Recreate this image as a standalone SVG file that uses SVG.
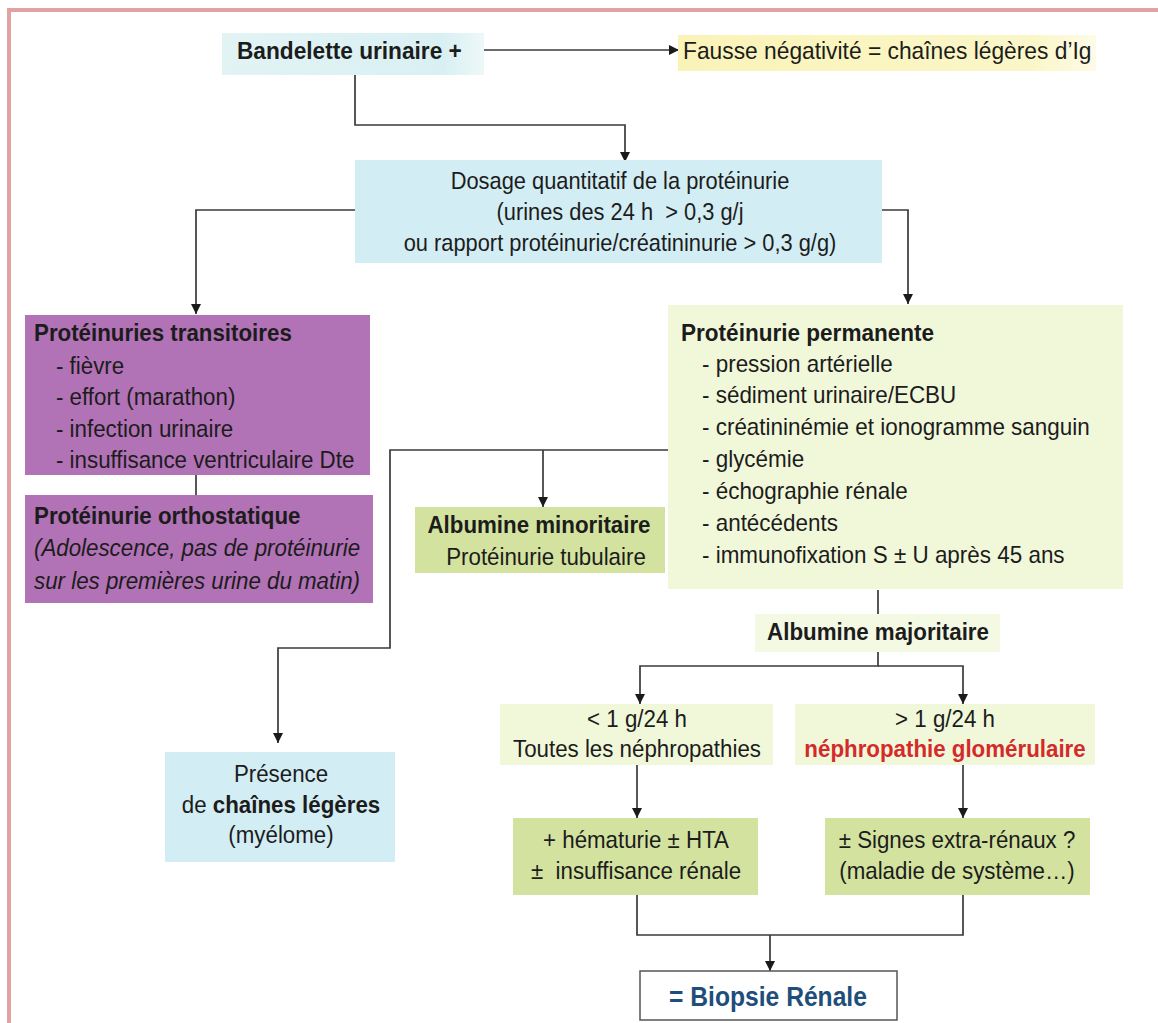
<svg xmlns="http://www.w3.org/2000/svg" width="1158" height="1023" viewBox="0 0 1158 1023">
<defs>
<style>
text{font-family:"Liberation Sans",Arial,sans-serif;font-size:24px;fill:#1c1c1c;}
.b{font-weight:bold;}
.c{text-anchor:middle;}
.i{font-style:italic;}
.ln{fill:none;stroke:#3a3a3a;stroke-width:1.7;}
.cyan{fill:#d3edf4;}
.purple{fill:#b172b6;}
.lg{fill:#f1f8da;}
.dg{fill:#d3e39f;}
.red{fill:#d42a2a;}
.blue{fill:#1f4e7a;}
</style>
<marker id="ar" viewBox="0 0 10 10" refX="10" refY="5" markerWidth="10" markerHeight="11" orient="auto" markerUnits="userSpaceOnUse">
<path d="M0,0 L10,5 L0,10 z" fill="#1a1a1a"/>
</marker>
<linearGradient id="gBand" x1="0" x2="1" y1="0" y2="0">
<stop offset="0" stop-color="#e2f3f4"/><stop offset="0.85" stop-color="#d9f0f3"/><stop offset="1" stop-color="#eef8f8"/>
</linearGradient>
<linearGradient id="gFau" x1="0" x2="1" y1="0" y2="0">
<stop offset="0" stop-color="#faf3b8"/><stop offset="0.85" stop-color="#fbf6c8"/><stop offset="1" stop-color="#fdfbe8"/>
</linearGradient>
</defs>
<rect width="1158" height="1023" fill="#ffffff"/>
<line x1="9" y1="10" x2="1158" y2="10" stroke="#e0a2a2" stroke-width="4"/>
<line x1="9" y1="8" x2="9" y2="1023" stroke="#e0a2a2" stroke-width="4"/>

<g id="connectors">
<line class="ln" x1="480" y1="50" x2="679" y2="50" marker-end="url(#ar)"/>
<polyline class="ln" points="355,75 355,125 625,125 625,162" marker-end="url(#ar)"/>
<polyline class="ln" points="355,210 196,210 196,314" marker-end="url(#ar)"/>
<polyline class="ln" points="882,210 908,210 908,304" marker-end="url(#ar)"/>
<line class="ln" x1="196" y1="475" x2="196" y2="495"/>
<polyline class="ln" points="668,450 390,450 390,648 278,648 278,743" marker-end="url(#ar)"/>
<line class="ln" x1="543" y1="450" x2="543" y2="507" marker-end="url(#ar)"/>
<line class="ln" x1="878" y1="590" x2="878" y2="614"/>
<polyline class="ln" points="878,652 878,666 640,666 640,704" marker-end="url(#ar)"/>
<polyline class="ln" points="878,666 963,666 963,704" marker-end="url(#ar)"/>
<line class="ln" x1="637" y1="765" x2="637" y2="818" marker-end="url(#ar)"/>
<line class="ln" x1="963" y1="765" x2="963" y2="818" marker-end="url(#ar)"/>
<polyline class="ln" points="637,895 637,935 963,935 963,895"/>
<line class="ln" x1="770" y1="935" x2="770" y2="971" marker-end="url(#ar)"/>
</g>

<g id="bandelette">
<rect x="222" y="33" width="262" height="42" fill="url(#gBand)"/>
<text class="b" transform="translate(237,59) scale(0.945,1)">Bandelette urinaire +</text>
</g>

<g id="fausse">
<rect x="678" y="35" width="418" height="36" fill="url(#gFau)"/>
<text transform="translate(683,59) scale(0.95,1)">Fausse négativité = chaînes légères d’Ig</text>
</g>

<g id="dosage">
<rect class="cyan" x="355" y="160" width="527" height="103"/>
<text class="c" transform="translate(620,189) scale(0.91,1)">Dosage quantitatif de la protéinurie</text>
<text class="c" transform="translate(620,220) scale(0.91,1)">(urines des 24 h &#160;&gt; 0,3 g/j</text>
<text class="c" transform="translate(620,251) scale(0.91,1)">ou rapport protéinurie/créatininurie &gt; 0,3 g/g)</text>
</g>

<g id="transitoires">
<rect class="purple" x="25" y="315" width="345" height="160"/>
<text class="b" transform="translate(34,341) scale(0.93,1)">Protéinuries transitoires</text>
<text transform="translate(56,374) scale(0.93,1)">- fièvre</text>
<text transform="translate(56,405) scale(0.93,1)">- effort (marathon)</text>
<text transform="translate(56,437) scale(0.93,1)">- infection urinaire</text>
<text transform="translate(56,468) scale(0.93,1)">- insuffisance ventriculaire Dte</text>
</g>

<g id="orthostatique">
<rect class="purple" x="25" y="495" width="348" height="108"/>
<text class="b" transform="translate(34,524) scale(0.93,1)">Protéinurie orthostatique</text>
<text class="i" transform="translate(34,556) scale(0.93,1)">(Adolescence, pas de protéinurie</text>
<text class="i" transform="translate(34,589) scale(0.93,1)">sur les premières urine du matin)</text>
</g>

<g id="permanente">
<rect class="lg" x="668" y="305" width="455" height="284"/>
<text class="b" transform="translate(681,341) scale(0.94,1)">Protéinurie permanente</text>
<text transform="translate(702,372) scale(0.935,1)">- pression artérielle</text>
<text transform="translate(702,403) scale(0.935,1)">- sédiment urinaire/ECBU</text>
<text transform="translate(702,435) scale(0.935,1)">- créatininémie et ionogramme sanguin</text>
<text transform="translate(702,467) scale(0.935,1)">- glycémie</text>
<text transform="translate(702,499) scale(0.935,1)">- échographie rénale</text>
<text transform="translate(702,531) scale(0.935,1)">- antécédents</text>
<text transform="translate(702,563) scale(0.935,1)">- immunofixation S ± U après 45 ans</text>
</g>

<g id="minoritaire">
<rect class="dg" x="415" y="507" width="250" height="66"/>
<text class="b c" transform="translate(539,533) scale(0.93,1)">Albumine minoritaire</text>
<text class="c" transform="translate(546,565) scale(0.93,1)">Protéinurie tubulaire</text>
</g>

<g id="majoritaire">
<rect fill="#f4f9e4" x="755" y="614" width="245" height="38"/>
<text class="b c" transform="translate(878,640) scale(0.93,1)">Albumine majoritaire</text>
</g>

<g id="presence">
<rect class="cyan" x="165" y="752" width="230" height="110"/>
<text class="c" transform="translate(281,782) scale(0.93,1)">Présence</text>
<text class="c" transform="translate(281,813) scale(0.93,1)">de <tspan class="b">chaînes légères</tspan></text>
<text class="c" transform="translate(281,843) scale(0.93,1)">(myélome)</text>
</g>

<g id="inf1g">
<rect class="lg" x="500" y="704" width="273" height="61"/>
<text class="c" transform="translate(637,727) scale(0.93,1)">&lt; 1 g/24 h</text>
<text class="c" transform="translate(637,757) scale(0.93,1)">Toutes les néphropathies</text>
</g>

<g id="sup1g">
<rect class="lg" x="795" y="704" width="300" height="61"/>
<text class="c" transform="translate(945,727) scale(0.93,1)">&gt; 1 g/24 h</text>
<text class="c b red" transform="translate(945,757) scale(0.93,1)">néphropathie glomérulaire</text>
</g>

<g id="hematurie">
<rect class="dg" x="513" y="818" width="245" height="77"/>
<text class="c" transform="translate(636,848) scale(0.93,1)">+ hématurie ± HTA</text>
<text class="c" transform="translate(636,879) scale(0.93,1)">± &#160;insuffisance rénale</text>
</g>

<g id="signes">
<rect class="dg" x="825" y="818" width="265" height="77"/>
<text class="c" transform="translate(957,848) scale(0.93,1)">± Signes extra-rénaux ?</text>
<text class="c" transform="translate(957,879) scale(0.93,1)">(maladie de système…)</text>
</g>

<g id="biopsie">
<rect x="640" y="971" width="257" height="49" fill="#ffffff" stroke="#555555" stroke-width="1.5"/>
<text class="b c blue" transform="translate(768,1006) scale(0.88,1)" style="font-size:28px">= Biopsie Rénale</text>
</g>
</svg>
